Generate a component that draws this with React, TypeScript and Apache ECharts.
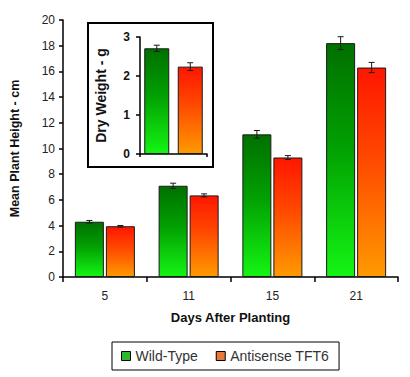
import React, { useEffect, useRef } from "react";
import * as echarts from "echarts";

const categories = ["5", "11", "15", "21"];
const wildType = [4.3, 7.1, 11.1, 18.2];
const wildTypeErr = [0.1, 0.2, 0.3, 0.5];
const antisense = [3.95, 6.35, 9.3, 16.3];
const antisenseErr = [0.06, 0.12, 0.15, 0.4];

const insetCategories = ["Wild-Type", "Antisense TFT6"];
const dryWeight = [2.71, 2.24];
const dryWeightErr = [0.08, 0.1];

const FONT = "'Liberation Sans', Arial, sans-serif";

const greenGrad = () =>
  new echarts.graphic.LinearGradient(0, 0, 0, 1, [
    { offset: 0, color: "#007000" },
    { offset: 0.45, color: "#02a002" },
    { offset: 1, color: "#14f514" },
  ]);
const redGrad = () =>
  new echarts.graphic.LinearGradient(0, 0, 0, 1, [
    { offset: 0, color: "#ff1600" },
    { offset: 0.45, color: "#ff4a00" },
    { offset: 1, color: "#ff9a00" },
  ]);

function errRender(offset: number, cap: number) {
  return (params: any, api: any) => {
    const idx = api.value(0);
    const v = api.value(1);
    const e = api.value(2);
    const top = api.coord([idx, v + e]);
    const bot = api.coord([idx, v - e]);
    const x = top[0] + offset;
    const style = { stroke: "#1a1a1a", lineWidth: 1 };
    return {
      type: "group",
      children: [
        { type: "line", shape: { x1: x, y1: top[1], x2: x, y2: bot[1] }, style },
        { type: "line", shape: { x1: x - cap, y1: top[1], x2: x + cap, y2: top[1] }, style },
        { type: "line", shape: { x1: x - cap, y1: bot[1], x2: x + cap, y2: bot[1] }, style },
      ],
    };
  };
}

export default function App() {
  const ref = useRef<HTMLDivElement>(null);
  useEffect(() => {
    if (!ref.current) return;
    const chart = echarts.init(ref.current, undefined, { renderer: "svg" });
    const axisLine = { show: true, lineStyle: { color: "#000", width: 1.5 } };
    chart.setOption({
      animation: false,
      backgroundColor: "#fff",
      textStyle: { fontFamily: FONT },
      grid: [
        { left: 62, top: 20, right: 12, bottom: 100 },
        { left: 140, top: 37, width: 67, height: 117 },
      ],
      graphic: {
        elements: [
          {
            type: "rect",
            z: -10,
            shape: { x: 88, y: 23, width: 125, height: 144 },
            style: { fill: "#fff", stroke: "#000", lineWidth: 2 },
          },
        ],
      },
      legend: {
        left: 112,
        top: 342,
        orient: "horizontal",
        borderColor: "#000",
        borderWidth: 1,
        padding: [7, 10, 7, 9],
        itemWidth: 9,
        itemHeight: 9,
        itemGap: 18,
        icon: "rect",
        textStyle: { fontFamily: FONT, fontSize: 14, color: "#333" },
        data: [
          { name: "Wild-Type", itemStyle: { color: "#2eb82e", borderColor: "#000", borderWidth: 1 } },
          { name: "Antisense TFT6", itemStyle: { color: "#e8793a", borderColor: "#000", borderWidth: 1 } },
        ],
      },
      xAxis: [
        {
          type: "category",
          gridIndex: 0,
          data: categories,
          axisLine,
          axisTick: { show: true, length: 5, lineStyle: { color: "#000", width: 1.5 } },
          axisLabel: { margin: 13, fontSize: 12, color: "#222", fontFamily: FONT },
          name: "Days After Planting",
          nameLocation: "middle",
          nameGap: 34,
          nameTextStyle: { fontSize: 13, fontWeight: "bold", color: "#111", fontFamily: FONT },
        },
        {
          type: "category",
          gridIndex: 1,
          data: insetCategories,
          axisLine,
          axisTick: { show: true, length: 3, lineStyle: { color: "#000", width: 1.5 } },
          axisLabel: { show: false },
        },
      ],
      yAxis: [
        {
          type: "value",
          gridIndex: 0,
          min: 0,
          max: 20,
          interval: 2,
          axisLine,
          axisTick: { show: true, length: 4, lineStyle: { color: "#000", width: 1.5 } },
          splitLine: { show: false },
          axisLabel: { margin: 8, fontSize: 12, color: "#222", fontFamily: FONT },
          name: "Mean Plant Height - cm",
          nameLocation: "middle",
          nameGap: 42,
          nameTextStyle: { fontSize: 12.5, fontWeight: "bold", color: "#111", fontFamily: FONT },
        },
        {
          type: "value",
          gridIndex: 1,
          min: 0,
          max: 3,
          interval: 1,
          axisLine,
          axisTick: { show: true, length: 4, lineStyle: { color: "#000", width: 1.5 } },
          splitLine: { show: false },
          axisLabel: { margin: 10, fontSize: 12, fontWeight: "bold", color: "#111", fontFamily: FONT },
          name: "Dry Weight - g",
          nameLocation: "middle",
          nameGap: 32,
          nameTextStyle: { fontSize: 14, fontWeight: "bold", color: "#111", fontFamily: FONT },
        },
      ],
      series: [
        {
          name: "Wild-Type",
          type: "bar",
          xAxisIndex: 0,
          yAxisIndex: 0,
          data: wildType,
          barWidth: 29,
          barGap: "7%",
          itemStyle: { color: greenGrad(), borderColor: "#1a1a1a", borderWidth: 1 },
        },
        {
          name: "Antisense TFT6",
          type: "bar",
          xAxisIndex: 0,
          yAxisIndex: 0,
          data: antisense,
          barWidth: 29,
          barGap: "7%",
          itemStyle: { color: redGrad(), borderColor: "#1a1a1a", borderWidth: 1 },
        },
        {
          name: "WT err",
          type: "custom",
          xAxisIndex: 0,
          yAxisIndex: 0,
          z: 5,
          data: wildType.map((v, i) => [i, v, wildTypeErr[i]]),
          renderItem: errRender(-15.5, 3),
        },
        {
          name: "TFT6 err",
          type: "custom",
          xAxisIndex: 0,
          yAxisIndex: 0,
          z: 5,
          data: antisense.map((v, i) => [i, v, antisenseErr[i]]),
          renderItem: errRender(15.5, 3),
        },
        {
          name: "Dry Weight",
          type: "bar",
          xAxisIndex: 1,
          yAxisIndex: 1,
          barWidth: 25,
          data: dryWeight.map((v, i) => ({
            value: v,
            itemStyle: { color: i === 0 ? greenGrad() : redGrad(), borderColor: "#1a1a1a", borderWidth: 1 },
          })),
        },
        {
          name: "Dry Weight err",
          type: "custom",
          xAxisIndex: 1,
          yAxisIndex: 1,
          z: 5,
          data: dryWeight.map((v, i) => [i, v, dryWeightErr[i]]),
          renderItem: errRender(0, 3),
        },
      ],
    });
    return () => chart.dispose();
  }, []);
  return (
    <div
      ref={ref}
      style={{ position: "fixed", left: 0, top: 0, width: 410, height: 377 }}
    />
  );
}
